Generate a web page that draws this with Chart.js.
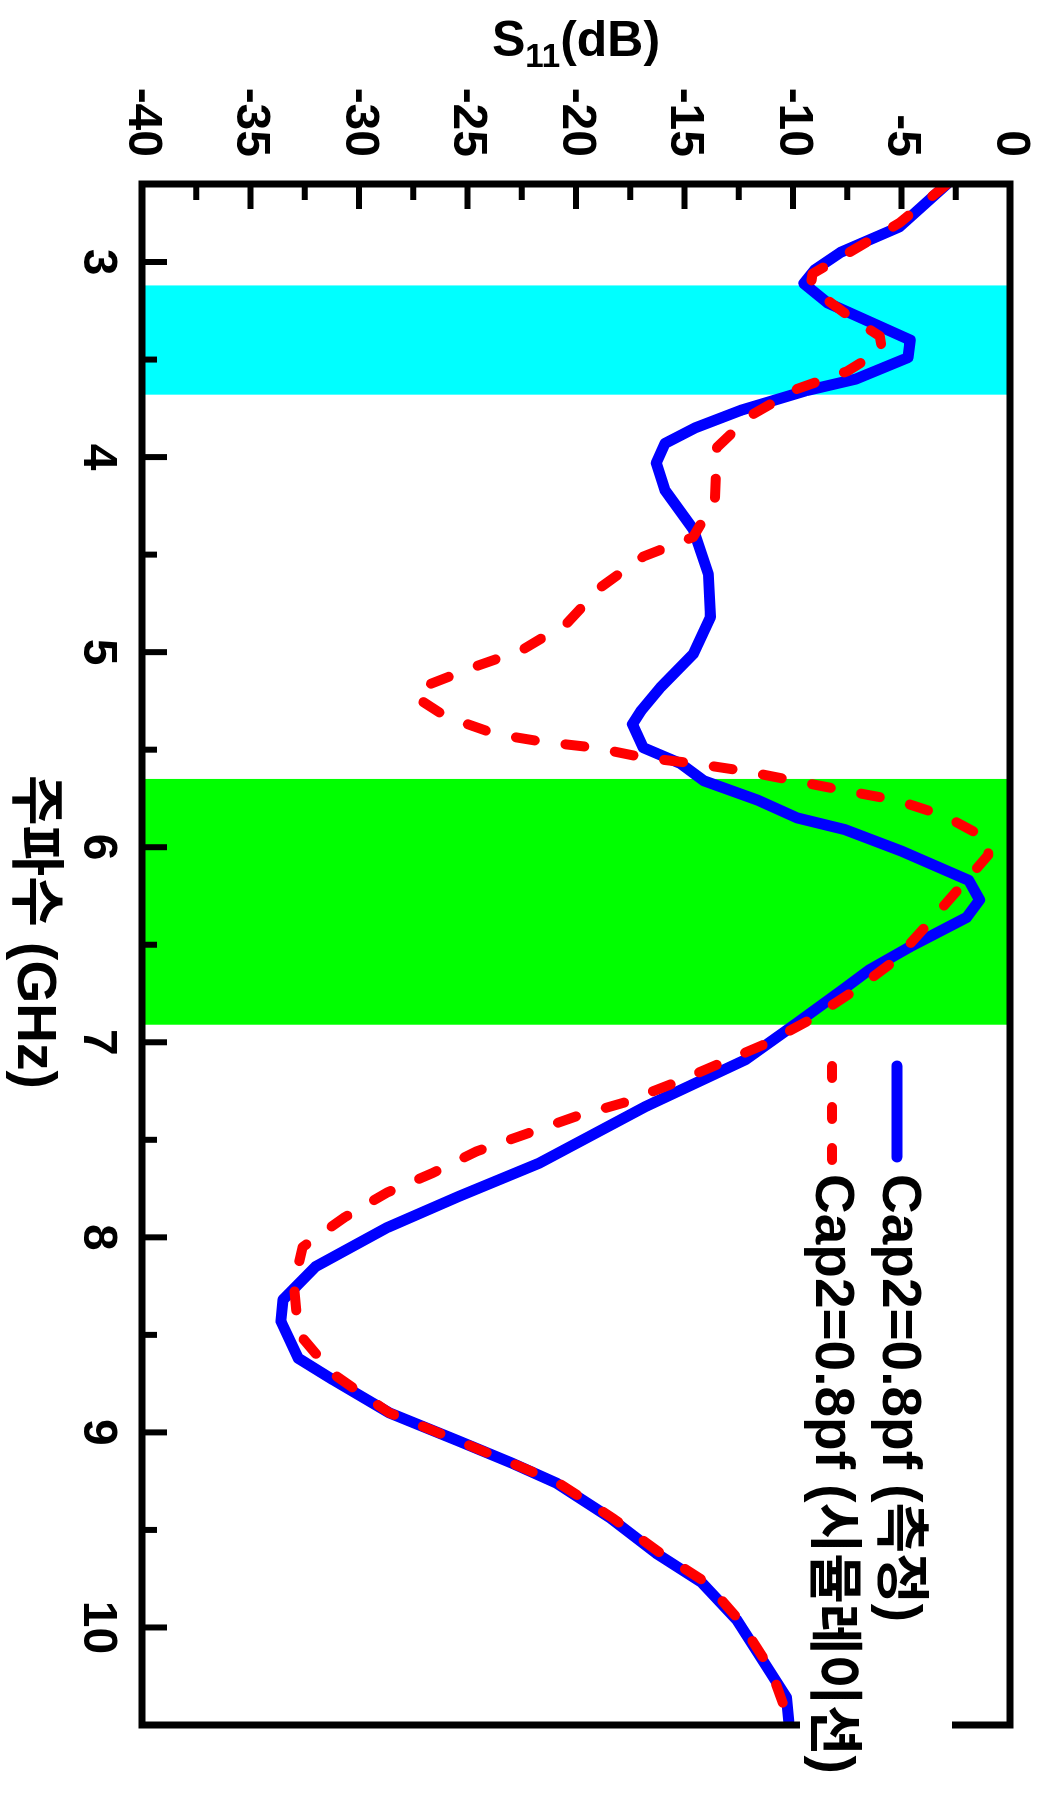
<!DOCTYPE html>
<html><head><meta charset="utf-8">
<script src="https://cdn.jsdelivr.net/npm/chart.js@4.4.1/dist/chart.umd.min.js"></script>
<style>
html,body{margin:0;padding:0;background:#fff;overflow:hidden;width:1037px;height:1805px;}
#wrap{position:relative;width:1037px;height:1805px;overflow:hidden;background:#fff;}
#c{position:absolute;left:0;top:0;width:1805px;height:1037px;transform-origin:0 0;transform:matrix(0,1,-1,0,1037,0);}
</style></head>
<body><div id="wrap"><canvas id="c" width="1805" height="1037"></canvas></div>
<script>
// ---- data ----
const freqTicks = [3, 4, 5, 6, 7, 8, 9, 10];
const freqMinorTicks = [3.5, 4.5, 5.5, 6.5, 7.5, 8.5, 9.5];
const s11Ticks = [-40, -35, -30, -25, -20, -15, -10, -5, 0];
const s11MinorTicks = [-37.5, -32.5, -27.5, -22.5, -17.5, -12.5, -7.5, -2.5];
const seriesLabels = ['Cap2=0.8pf (측정)', 'Cap2=0.8pf (시뮬레이션)'];
const cyanBand = [3.12, 3.68];
const greenBand = [5.65, 6.91];
const measuredFreq = [2.6, 2.82, 2.95, 3.04, 3.11, 3.21, 3.40, 3.49, 3.60, 3.66, 3.76, 3.85, 3.93, 4.03, 4.17, 4.37, 4.60, 4.82, 5.01, 5.18, 5.30, 5.37, 5.49, 5.57, 5.66, 5.76, 5.85, 5.91, 6.02, 6.17, 6.27, 6.36, 6.51, 6.63, 6.73, 6.90, 7.09, 7.33, 7.62, 7.79, 7.95, 8.15, 8.32, 8.43, 8.62, 8.73, 8.90, 9.04, 9.16, 9.26, 9.44, 9.62, 9.77, 9.96, 10.22, 10.36, 10.48];
const measuredS11 = [-2.9, -5.1, -7.8, -9.0, -9.5, -8.4, -4.6, -4.7, -7.1, -9.4, -12.4, -14.5, -15.9, -16.3, -15.9, -14.6, -13.9, -13.8, -14.6, -16.1, -17.0, -17.4, -16.9, -15.2, -14.1, -11.6, -9.8, -7.6, -5.0, -1.9, -1.4, -2.0, -4.6, -6.5, -7.7, -9.8, -12.2, -16.8, -21.7, -25.4, -28.7, -32.0, -33.5, -33.6, -32.8, -31.2, -28.6, -25.5, -22.9, -20.9, -18.4, -16.3, -14.2, -12.6, -11.1, -10.3, -10.2];
const simFreq = [2.6, 2.80, 2.95, 3.06, 3.13, 3.28, 3.38, 3.45, 3.56, 3.65, 3.79, 3.95, 4.22, 4.41, 4.51, 4.67, 4.85, 4.99, 5.08, 5.18, 5.23, 5.33, 5.42, 5.46, 5.49, 5.54, 5.57, 5.61, 5.66, 5.71, 5.76, 5.84, 5.96, 6.04, 6.13, 6.37, 6.58, 6.73, 6.89, 7.01, 7.11, 7.21, 7.31, 7.38, 7.47, 7.56, 7.67, 7.77, 7.90, 8.05, 8.24, 8.49, 8.70, 8.90, 9.04, 9.16, 9.26, 9.44, 9.62, 9.77, 9.96, 10.22, 10.41];
const simS11 = [-2.9, -5.1, -7.4, -9.1, -9.2, -7.4, -6.0, -5.9, -7.5, -9.8, -12.0, -13.5, -13.6, -14.6, -16.9, -18.9, -20.4, -22.5, -24.8, -27.1, -27.4, -26.0, -23.7, -21.5, -19.1, -16.9, -14.6, -12.2, -9.9, -7.6, -5.2, -3.0, -1.0, -1.0, -1.7, -3.6, -5.3, -7.1, -9.3, -11.3, -13.4, -15.5, -17.8, -20.0, -22.3, -24.6, -26.6, -28.7, -30.7, -32.6, -33.0, -32.8, -31.2, -28.6, -25.5, -22.9, -20.8, -18.3, -16.1, -14.0, -12.5, -11.0, -10.4];
const xTitle = '주파수 (GHz)';
const yTitleParts = ['S', '11', '(dB)'];

// ---- rendering ----
const FONT = "'Liberation Sans', Arial, 'Noto Sans CJK KR', sans-serif";
const toPoints = (xs, ys) => xs.map((v, i) => ({x: v, y: ys[i]}));

const decor = {
  id: 'decor',
  beforeDatasetsDraw(chart) {
    const {ctx, chartArea: a, scales: {x}} = chart;
    ctx.save();
    [[cyanBand, '#00FFFF'], [greenBand, '#00FF00']].forEach(([b, col]) => {
      const p0 = x.getPixelForValue(b[0]), p1 = x.getPixelForValue(b[1]);
      ctx.fillStyle = col;
      ctx.fillRect(p0, a.top, p1 - p0, a.bottom - a.top);
    });
    ctx.restore();
  },
  afterDatasetsDraw(chart) {
    const {ctx, chartArea: a, scales: {x, y}} = chart;
    ctx.save();
    // frame
    ctx.strokeStyle = '#000';
    ctx.lineWidth = 7;
    ctx.lineJoin = 'miter';
    ctx.strokeRect(a.left, a.top, a.right - a.left, a.bottom - a.top);
    // inward ticks
    ctx.lineWidth = 6;
    ctx.lineCap = 'butt';
    const tick = (x0, y0, x1, y1) => { ctx.beginPath(); ctx.moveTo(x0, y0); ctx.lineTo(x1, y1); ctx.stroke(); };
    freqTicks.forEach(v => { const p = x.getPixelForValue(v); tick(p, a.bottom, p, a.bottom - 25); });
    freqMinorTicks.forEach(v => { const p = x.getPixelForValue(v); tick(p, a.bottom, p, a.bottom - 15); });
    s11Ticks.forEach(v => { const p = y.getPixelForValue(v); tick(a.left, p, a.left + 25, p); });
    s11MinorTicks.forEach(v => { const p = y.getPixelForValue(v); tick(a.left, p, a.left + 16, p); });

    // axis titles
    ctx.fillStyle = '#000';
    ctx.font = `bold 55px ${FONT}`;
    ctx.textAlign = 'left';
    ctx.textBaseline = 'middle';
    ctx.fillText(xTitle, 775, 1004);

    ctx.save();
    const big = `bold 50px ${FONT}`, small = `bold 33px ${FONT}`;
    ctx.font = big; const w0 = ctx.measureText(yTitleParts[0]).width;
    const w2 = ctx.measureText(yTitleParts[2]).width;
    ctx.font = small; const w1 = ctx.measureText(yTitleParts[1]).width;
    const total = w0 + w1 + w2;
    ctx.translate(56, (a.top + a.bottom) / 2);
    ctx.rotate(-Math.PI / 2);
    ctx.textBaseline = 'alphabetic';
    let cx = -total / 2;
    ctx.font = big; ctx.fillText(yTitleParts[0], cx, 0); cx += w0;
    ctx.font = small; ctx.fillText(yTitleParts[1], cx, 11); cx += w1;
    ctx.font = big; ctx.fillText(yTitleParts[2], cx, 0);
    ctx.restore();

    // legend
    ctx.fillStyle = '#fff';
    ctx.fillRect(1040, 85, 765, 152);
    const rows = [{ly: 140, ty: 154}, {ly: 205, ty: 221}];
    chart.data.datasets.forEach((ds, i) => {
      const r = rows[i];
      ctx.save();
      ctx.strokeStyle = ds.borderColor;
      ctx.lineWidth = ds.borderWidth;
      ctx.lineCap = 'round';
      const dashed = ds.borderDash && ds.borderDash.length;
      ctx.setLineDash(dashed ? [12, 29] : []);
      ctx.beginPath(); ctx.moveTo(1066, r.ly); ctx.lineTo(dashed ? 1160 : 1157, r.ly); ctx.stroke();
      ctx.restore();
      ctx.fillStyle = '#000';
      ctx.font = `bold 55px ${FONT}`;
      ctx.textAlign = 'left';
      ctx.textBaseline = 'alphabetic';
      ctx.fillText(ds.label, 1174, r.ty);
    });
    ctx.restore();
  }
};

new Chart(document.getElementById('c'), {
  type: 'line',
  data: {
    datasets: [
      {label: seriesLabels[0], data: toPoints(measuredFreq, measuredS11), borderColor: '#0000FF', borderWidth: 11,
       pointRadius: 0, tension: 0, fill: false, borderJoinStyle: 'round', borderCapStyle: 'round', order: 2},
      {label: seriesLabels[1], data: toPoints(simFreq, simS11), borderColor: '#FF0000', borderWidth: 10,
       borderDash: [19, 31], borderCapStyle: 'round', borderJoinStyle: 'round',
       pointRadius: 0, tension: 0, fill: false, order: 1}
    ]
  },
  options: {
    responsive: false,
    animation: false,
    devicePixelRatio: 1,
    layout: {padding: {top: 27, right: 80, left: 0, bottom: 0}},
    plugins: {legend: {display: false}, tooltip: {enabled: false}, title: {display: false}},
    scales: {
      x: {
        type: 'linear', min: 2.6, max: 10.5,
        afterBuildTicks: s => { s.ticks = freqTicks.map(v => ({value: v})); },
        afterFit: s => { s.height = 142; s.paddingLeft = 0; s.paddingRight = 0; },
        grid: {display: false, drawTicks: false},
        border: {display: false},
        ticks: {font: {family: FONT, size: 48, weight: 'bold', lineHeight: 1}, color: '#000', padding: 21,
                maxRotation: 0, autoSkip: false, callback: v => String(v)}
      },
      y: {
        type: 'linear', min: -40, max: 0,
        afterBuildTicks: s => { s.ticks = s11Ticks.map(v => ({value: v})); },
        afterFit: s => { s.width = 184; s.paddingTop = 0; s.paddingBottom = 0; },
        grid: {display: false, drawTicks: false},
        border: {display: false},
        ticks: {font: {family: FONT, size: 48, weight: 'bold', lineHeight: 1}, color: '#000', padding: 27,
                autoSkip: false, callback: v => String(v)}
      }
    }
  },
  plugins: [decor]
});
</script>
</body></html>
